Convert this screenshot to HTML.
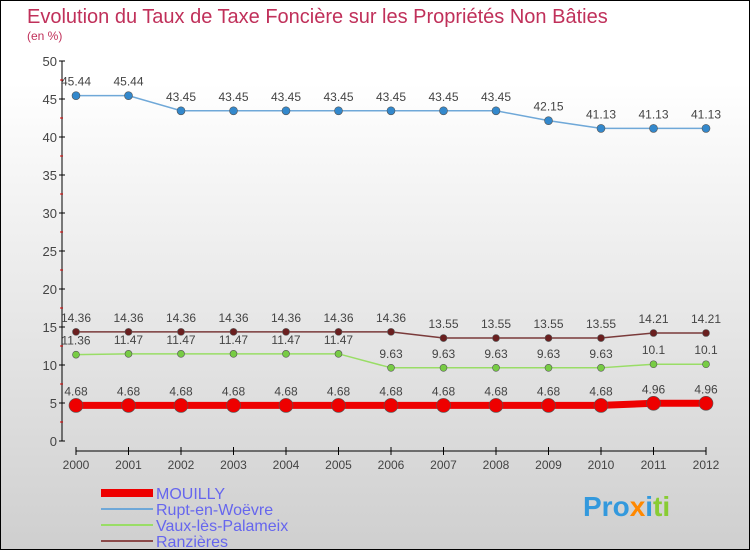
<!DOCTYPE html>
<html><head><meta charset="utf-8"><style>
body{margin:0}
#c{width:748px;height:548px;border:1px solid #000;background:linear-gradient(#fff,#fff 15%,#cfcfcf);position:relative;font-family:"Liberation Sans",sans-serif;overflow:hidden}
</style></head><body>
<div id="c">
<svg width="748" height="548" xmlns="http://www.w3.org/2000/svg">
<text x="26" y="22" font-size="20" fill="#c0305a">Evolution du Taux de Taxe Foncière sur les Propriétés Non Bâties</text>
<text x="26" y="39" font-size="12" fill="#c0305a">(en %)</text>
<g id="axes"></g>
<g id="series"></g>
<g id="legend" font-size="16" fill="#6666ee">
<rect x="100" y="488" width="52" height="8" fill="#e00"/>
<text x="155" y="498">MOUILLY</text>
<rect x="100" y="507" width="52" height="2" fill="#6fa8d8"/>
<text x="155" y="514">Rupt-en-Woëvre</text>
<rect x="100" y="523" width="52" height="2" fill="#99dd66"/>
<text x="155" y="530">Vaux-lès-Palameix</text>
<rect x="100" y="539" width="52" height="2" fill="#8b4a4a"/>
<text x="155" y="546">Ranzières</text>
</g>
<text x="582" y="515" font-size="28" font-weight="bold"><tspan fill="#3399dd">Pro</tspan><tspan fill="#ff8800">x</tspan><tspan fill="#3399dd">i</tspan><tspan fill="#88cc33">ti</tspan></text>
</svg>
</div>
<script>
const years=[2000,2001,2002,2003,2004,2005,2006,2007,2008,2009,2010,2011,2012];
const yTicks=[0,5,10,15,20,25,30,35,40,45,50];
const mouilly=[4.68,4.68,4.68,4.68,4.68,4.68,4.68,4.68,4.68,4.68,4.68,4.96,4.96];
const rupt=[45.44,45.44,43.45,43.45,43.45,43.45,43.45,43.45,43.45,42.15,41.13,41.13,41.13];
const vaux=[11.36,11.47,11.47,11.47,11.47,11.47,9.63,9.63,9.63,9.63,9.63,10.1,10.1];
const ranz=[14.36,14.36,14.36,14.36,14.36,14.36,14.36,13.55,13.55,13.55,13.55,14.21,14.21];
const NS="http://www.w3.org/2000/svg";
const X=i=>75+i*52.5, Y=v=>440-v*7.6;
function mk(p,t,a){const e=document.createElementNS(NS,t);for(const k in a)e.setAttribute(k,a[k]);p.appendChild(e);return e;}
const ax=document.getElementById('axes');
let l=mk(ax,'line',{x1:61,y1:60,x2:61,y2:440,stroke:'#000'});


l=mk(ax,'line',{x1:75,y1:450,x2:705,y2:450,stroke:'#000'});


yTicks.forEach(v=>{
 mk(ax,'line',{x1:58,y1:Y(v),x2:64,y2:Y(v),stroke:'#000'});
 if(v<50) mk(ax,'line',{x1:59,y1:Y(v+2.5),x2:62,y2:Y(v+2.5),stroke:'#d00'});
 const t=mk(ax,'text',{x:56,y:Y(v)+5,'text-anchor':'end','font-size':13,fill:'#444'});
 t.textContent=v;
 
 
});
years.forEach((y,i)=>{
 mk(ax,'line',{x1:X(i),y1:446,x2:X(i),y2:454,stroke:'#000'});
 const t=mk(ax,'text',{x:X(i),y:468,'text-anchor':'middle','font-size':12,fill:'#444'});
 t.textContent=y;
 
 
});
const sg=document.getElementById('series');
function series(arr,name,col,dot,w,r){
 const g=mk(sg,'g',{});
 
 
 const p=mk(g,'polyline',{points:arr.map((v,i)=>X(i)+','+Y(v)).join(' '),fill:'none',stroke:col,'stroke-width':w});
 
 
 arr.forEach((v,i)=>{
  const c=mk(g,'circle',{cx:X(i),cy:Y(v),r:r,fill:dot,stroke:'#555','stroke-width':0.6});
  
  
  const t=mk(g,'text',{x:X(i),y:Y(v)-10,'text-anchor':'middle','font-size':12,fill:'#444'});
  t.textContent=v;
  
  
 });
}
series(rupt,'rupt','#6fa8d8','#3388cc',1.5,4);
series(ranz,'ranzieres','#7a3a3a','#6a1f1f',1.5,3.5);
series(vaux,'vaux','#99dd66','#77cc44',1.5,3.5);
series(mouilly,'mouilly','#ee0000','#ee0000',7,7);
</script>
</body></html>
